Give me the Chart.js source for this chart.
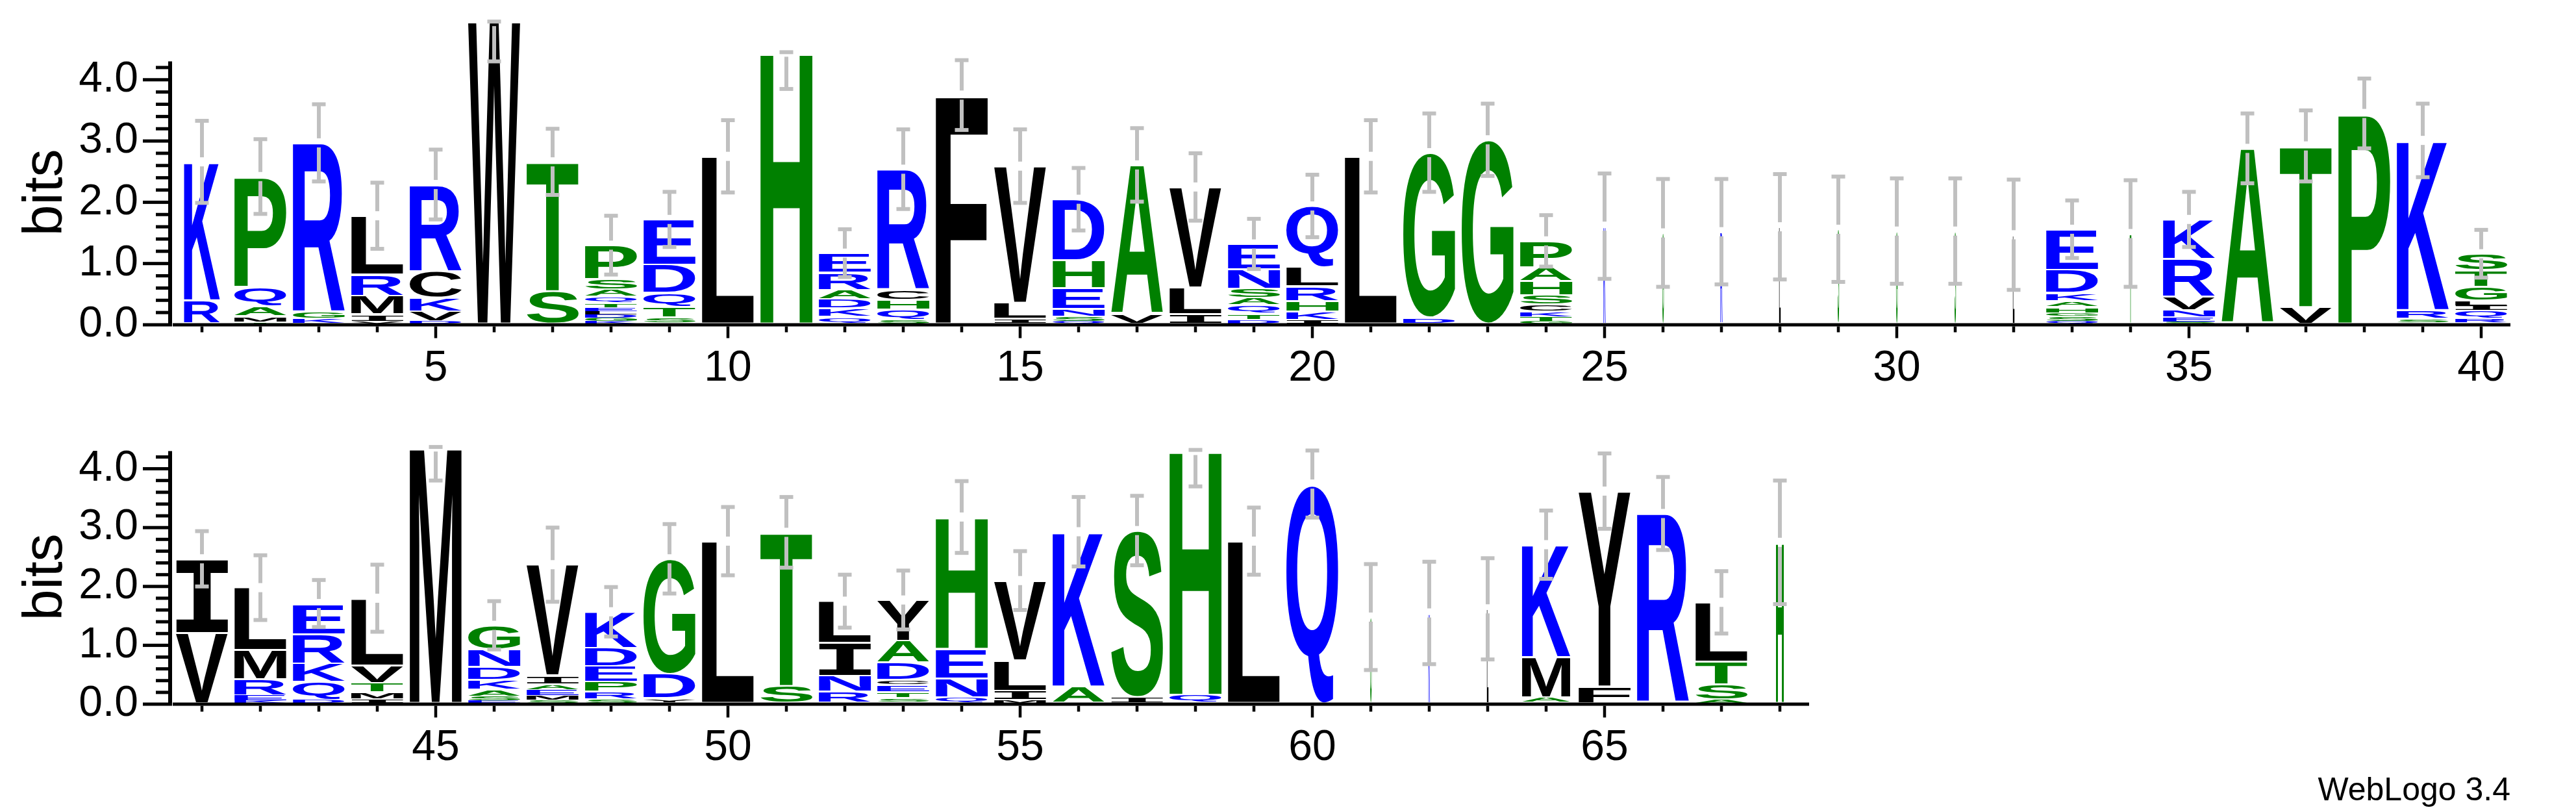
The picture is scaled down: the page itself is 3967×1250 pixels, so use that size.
<!DOCTYPE html>
<html>
<head>
<meta charset="utf-8">
<title>Sequence logo</title>
<script src="https://cdn.jsdelivr.net/npm/chart.js@4.4.1/dist/chart.umd.min.js"></script>
<style>
  body { margin: 0; background: #fff; width: 3967px; height: 1250px; position: relative; overflow: hidden; }
  canvas { position: absolute; left: 0; }
  #logoTop { top: 0; }
  #logoBottom { top: 600px; }
  #version { position: absolute; right: 101px; top: 1186px; font: 50px 'Liberation Sans', Arial, sans-serif; color: #000; }
</style>
</head>
<body>
<canvas id="logoTop" width="3967" height="600"></canvas>
<canvas id="logoBottom" width="3967" height="600"></canvas>
<div id="version">WebLogo 3.4</div>
<script>
// Letters at each position are listed bottom -> top, heights in bits
const positionsTop = [1, 2, 3, 4, 5, 6, 7, 8, 9, 10, 11, 12, 13, 14, 15, 16, 17, 18, 19, 20,
    21, 22, 23, 24, 25, 26, 27, 28, 29, 30, 31, 32, 33, 34, 35, 36, 37, 38, 39, 40];
const lettersTop = ["RK", "TMAQP", "KGR", "VIMRL", "DVKCR", "W", "ST", "KGDLETQASP", "STQDE", "L",
    "H", "QKDARE", "SQHCR", "F", "ILV", "QSNEHD", "VA", "ILV", "DTQASNE", "IKHRLQ",
    "L", "DG", "G", "GTKCSHAP", "K", "G", "R", "L", "S", "G",
    "S", "L", "QSGHAKDE", "T", "SENVRK", "A", "VT", "P", "SRK", "RQILGTS"];
const heightsTop = [
    [0.40, 2.26], [0.04, 0.10, 0.16, 0.32, 1.80], [0.12, 0.08, 2.77], [0.05, 0.12, 0.30, 0.35, 0.96],
    [0.06, 0.16, 0.22, 0.43, 1.42], [4.95], [0.55, 2.11],
    [0.06, 0.06, 0.05, 0.05, 0.05, 0.09, 0.10, 0.12, 0.17, 0.55], [0.12, 0.17, 0.23, 0.46, 0.74], [2.75],
    [4.45], [0.13, 0.14, 0.15, 0.15, 0.28, 0.32], [0.08, 0.17, 0.16, 0.16, 1.97], [3.75], [0.10, 0.26, 2.23],
    [0.06, 0.07, 0.13, 0.34, 0.45, 1.00], [0.18, 2.43], [0.17, 0.44, 1.64],
    [0.08, 0.10, 0.14, 0.12, 0.15, 0.32, 0.41], [0.08, 0.14, 0.17, 0.24, 0.31, 1.00],
    [2.75], [0.12, 2.69], [3.02], [0.06, 0.06, 0.10, 0.11, 0.15, 0.23, 0.23, 0.43],
    [1.61], [1.50], [1.52], [1.60], [1.56], [1.53], [1.53], [1.47],
    [0.05, 0.10, 0.04, 0.10, 0.10, 0.13, 0.38, 0.66], [1.49], [0.05, 0.07, 0.12, 0.22, 0.62, 0.64],
    [2.88], [0.29, 2.63], [3.45], [0.10, 0.14, 2.77], [0.10, 0.14, 0.06, 0.10, 0.22, 0.27, 0.27]
];
// stack width (fraction of a full column), narrow where the alignment has gaps
const widthsTop = [0.69, 1, 1, 1, 1, 1, 1, 1, 1, 1, 1, 1, 1, 1, 1, 1, 1, 1, 1, 1,
    1, 1, 1, 1, 0.04, 0.03, 0.04, 0.03, 0.03, 0.03, 0.03, 0.03, 1, 0.03, 1, 1, 1, 1, 1, 1];
const errorsTop = [0.67, 0.61, 0.63, 0.54, 0.57, 0.65, 0.54, 0.48, 0.45, 0.59, 0.60, 0.39, 0.65, 0.57, 0.60,
    0.51, 0.60, 0.55, 0.41, 0.51, 0.59, 0.64, 0.59, 0.42, 0.86, 0.88, 0.86, 0.86, 0.86, 0.86,
    0.86, 0.90, 0.47, 0.87, 0.45, 0.57, 0.58, 0.57, 0.60, 0.39];

const positionsBottom = [41, 42, 43, 44, 45, 46, 47, 48, 49, 50, 51, 52, 53, 54, 55, 56, 57, 58, 59, 60,
    61, 62, 63, 64, 65, 66, 67, 68];
const lettersBottom = ["VI", "KERML", "DQKRE", "IMTVL", "M", "ESAKDNG", "SMEAIV", "SRPEDK", "YDG", "L",
    "ST", "RNIL", "STECDAY", "QNEH", "MILV", "AK", "IS", "QH", "L", "Q",
    "G", "K", "L", "AMK", "FY", "R", "ASTL", "H"];
const heightsBottom = [
    [1.21, 1.26], [0.07, 0.08, 0.27, 0.50, 1.06], [0.08, 0.30, 0.31, 0.50, 0.52], [0.08, 0.12, 0.16, 0.30, 1.14],
    [4.37], [0.06, 0.07, 0.12, 0.16, 0.22, 0.30, 0.41], [0.06, 0.10, 0.08, 0.10, 0.15, 1.88],
    [0.08, 0.13, 0.17, 0.27, 0.31, 0.61], [0.10, 0.41, 1.96], [2.77],
    [0.31, 2.61], [0.21, 0.27, 0.56, 0.71], [0.10, 0.10, 0.12, 0.09, 0.30, 0.37, 0.69], [0.12, 0.32, 0.50, 2.24],
    [0.07, 0.16, 0.52, 1.35], [0.30, 2.63], [0.12, 2.83], [0.16, 4.15], [2.77], [3.74],
    [1.48], [1.55], [1.62], [0.12, 0.68, 1.91], [0.30, 3.32], [3.24], [0.08, 0.26, 0.38, 1.01], [2.75]
];
const widthsBottom = [1, 1, 1, 1, 1, 1, 1, 1, 1, 1, 1, 1, 1, 1, 1, 1, 1, 1, 1, 1,
    0.03, 0.03, 0.03, 0.93, 1, 1, 1, 0.15];
const errorsBottom = [0.47, 0.55, 0.40, 0.57, 0.57, 0.41, 0.63, 0.42, 0.59, 0.58, 0.60, 0.45, 0.50, 0.61,
    0.50, 0.59, 0.59, 0.61, 0.57, 0.57, 0.90, 0.87, 0.86, 0.58, 0.64, 0.62, 0.53, 1.05];

const xTicksTop = [5, 10, 15, 20, 25, 30, 35, 40];
const xTicksBottom = [45, 50, 55, 60, 65];
const yTicks = [0, 1, 2, 3, 4];

// hydrophobicity colour scheme
const colourGroups = [
    { letters: "RKDENQ", colour: '#0000ff' },
    { letters: "SGHTAP", colour: '#008000' },
    { letters: "YVMCLFIW", colour: '#000000' }
];
const family = "'Liberation Sans', Arial, Helvetica, sans-serif";
const fullStack = 0.89;   // letter column width / position spacing
const yCeiling = 4.32;    // error bars are not drawn above this (or above the stack, if taller)

function letterColour(ch) {
    const g = colourGroups.find(g => g.letters.includes(ch));
    return g ? g.colour : '#000';
}
function glyphFont(ch) {
    // WebLogo draws a serif I
    return ch === 'I' ? "bold 200px 'DejaVu Sans Mono', monospace" : "bold 200px " + family;
}
const glyphCache = {};
function glyphBox(ctx, ch) {
    if (!glyphCache[ch]) {
        ctx.save();
        ctx.font = glyphFont(ch);
        const m = ctx.measureText(ch);
        glyphCache[ch] = { left: m.actualBoundingBoxLeft, right: m.actualBoundingBoxRight,
            ascent: m.actualBoundingBoxAscent, descent: m.actualBoundingBoxDescent };
        ctx.restore();
    }
    return glyphCache[ch];
}
function drawLetter(ctx, ch, x1, x2, y1, y2) {
    const b = glyphBox(ctx, ch);
    ctx.save();
    ctx.translate(x1, y1);
    ctx.scale((x2 - x1) / (b.left + b.right), (y2 - y1) / (b.ascent + b.descent));
    ctx.font = glyphFont(ch);
    ctx.textAlign = 'left';
    ctx.textBaseline = 'alphabetic';
    ctx.fillStyle = letterColour(ch);
    ctx.fillText(ch, b.left, b.ascent);
    ctx.restore();
}

function buildDatasets(positions, letters, heights) {
    const layers = Math.max(...letters.map(s => s.length));
    const sets = [];
    for (let k = 0; k < layers; k++) {
        sets.push({
            label: 'layer ' + (k + 1),
            data: positions.map((p, i) => ({ x: p, y: heights[i][k] || 0 })),
            letters: positions.map((p, i) => letters[i][k] || ''),
            backgroundColor: 'rgba(0,0,0,0)',
            borderWidth: 0,
            barPercentage: 1,
            categoryPercentage: 1
        });
    }
    return sets;
}

const logoPlugin = {
    id: 'logo',
    afterDatasetsDraw(chart, args, opts) {
        const ctx = chart.ctx;
        const xs = chart.scales.x, ys = chart.scales.y;
        // letters
        chart.data.datasets.forEach((ds, k) => {
            const meta = chart.getDatasetMeta(k);
            meta.data.forEach((bar, i) => {
                const ch = ds.letters[i];
                if (!ch) return;
                const p = bar.getProps(['x', 'y', 'base', 'width'], true);
                const w = p.width * fullStack * opts.widths[i];
                const top = Math.min(p.y, p.base), bottom = Math.max(p.y, p.base);
                const h = bottom - top;
                if (h < 0.5) return;
                const inset = h > 8 ? 1.5 : 0;
                drawLetter(ctx, ch, p.x - w / 2, p.x + w / 2, top + inset, bottom - inset - (k === 0 ? 2 : 0));
            });
        });
        // error bars, split where they cross the top of the stack
        ctx.save();
        ctx.fillStyle = '#c0c0c0';
        opts.positions.forEach((pos, i) => {
            const total = opts.heights[i].reduce((a, b) => a + b, 0);
            const e = opts.errors[i];
            const x = xs.getPixelForValue(pos);
            const yc = ys.getPixelForValue(total);
            const y1 = ys.getPixelForValue(Math.min(total + e, Math.max(total, yCeiling)));
            const y2 = ys.getPixelForValue(total - e);
            if (yc - 7 > y1) ctx.fillRect(x - 3, y1, 6, (yc - 7) - y1);
            ctx.fillRect(x - 3, yc + 7, 6, y2 - (yc + 7));
            ctx.fillRect(x - 10.5, y1 - 3, 21, 6);
            ctx.fillRect(x - 10.5, y2 - 3, 21, 6);
        });
        ctx.restore();
    },
    afterDraw(chart, args, opts) {
        const ctx = chart.ctx;
        const xs = chart.scales.x, ys = chart.scales.y;
        const ca = chart.chartArea;
        const y0 = ys.getPixelForValue(0);
        const axisX = ca.left - 7;
        ctx.save();
        ctx.fillStyle = '#000';
        // y axis line and ticks (minor every 0.2 bits)
        const yTop = ys.getPixelForValue(4.3);
        ctx.fillRect(axisX, yTop, 6, y0 + 2.5 - yTop);
        for (let i = 0; i <= 21; i++) {
            const y = ys.getPixelForValue(i * 0.2);
            const len = i % 5 === 0 ? 39 : 19;
            ctx.fillRect(axisX - len, y - 2.5, len, 5);
        }
        // x axis line and ticks
        ctx.fillRect(ca.left, y0 - 2.5, ca.right - ca.left, 5);
        opts.positions.forEach(pos => {
            const x = xs.getPixelForValue(pos);
            const len = opts.majorTicks.includes(pos) ? 18 : 9;
            ctx.fillRect(x - 2.25, y0 + 2.5, 4.5, len);
        });
        ctx.restore();
    }
};

function makeLogo(canvasId, positions, letters, heights, widths, errors, majorTicks, xMin, xMax, padTop, padRight, xHeight) {
    var ctx = document.getElementById(canvasId).getContext('2d');
    return new Chart(ctx, {
        type: 'bar',
        data: { datasets: buildDatasets(positions, letters, heights) },
        options: {
            responsive: false,
            animation: false,
            devicePixelRatio: 1,
            layout: { padding: { top: padTop, right: padRight, left: 0, bottom: 0 } },
            plugins: {
                legend: { display: false },
                tooltip: { enabled: false },
                logo: { positions: positions, heights: heights, widths: widths, errors: errors, majorTicks: majorTicks }
            },
            scales: {
                x: {
                    type: 'linear',
                    min: xMin,
                    max: xMax,
                    offset: false,
                    stacked: true,
                    grid: { display: false, drawTicks: false },
                    border: { display: false },
                    ticks: { color: '#000', font: { size: 66, family: family }, padding: 28, maxRotation: 0, autoSkip: false },
                    afterBuildTicks: s => { s.ticks = majorTicks.map(v => ({ value: v })); },
                    afterFit: s => { s.height = xHeight; }
                },
                y: {
                    type: 'linear',
                    min: 0,
                    max: 4.32,
                    stacked: true,
                    grid: { display: false, drawTicks: false },
                    border: { display: false },
                    ticks: { color: '#000', font: { size: 66, family: family }, padding: 53,
                        callback: v => v.toFixed(1) },
                    afterBuildTicks: s => { s.ticks = yTicks.map(v => ({ value: v })); },
                    title: { display: true, text: 'bits', color: '#000', font: { size: 86, family: family },
                        padding: { top: 20, bottom: 0 } },
                    afterFit: s => { s.width = 266; }
                }
            }
        },
        plugins: [logoPlugin]
    });
}

var topChart = makeLogo('logoTop', positionsTop, lettersTop, heightsTop, widthsTop, errorsTop,
    xTicksTop, 0.5, 40.5, 48, 101, 100);
var bottomChart = makeLogo('logoBottom', positionsBottom, lettersBottom, heightsBottom, widthsBottom, errorsBottom,
    xTicksBottom, 40.5, 68.5, 32, 1181, 116);
</script>
</body>
</html>
